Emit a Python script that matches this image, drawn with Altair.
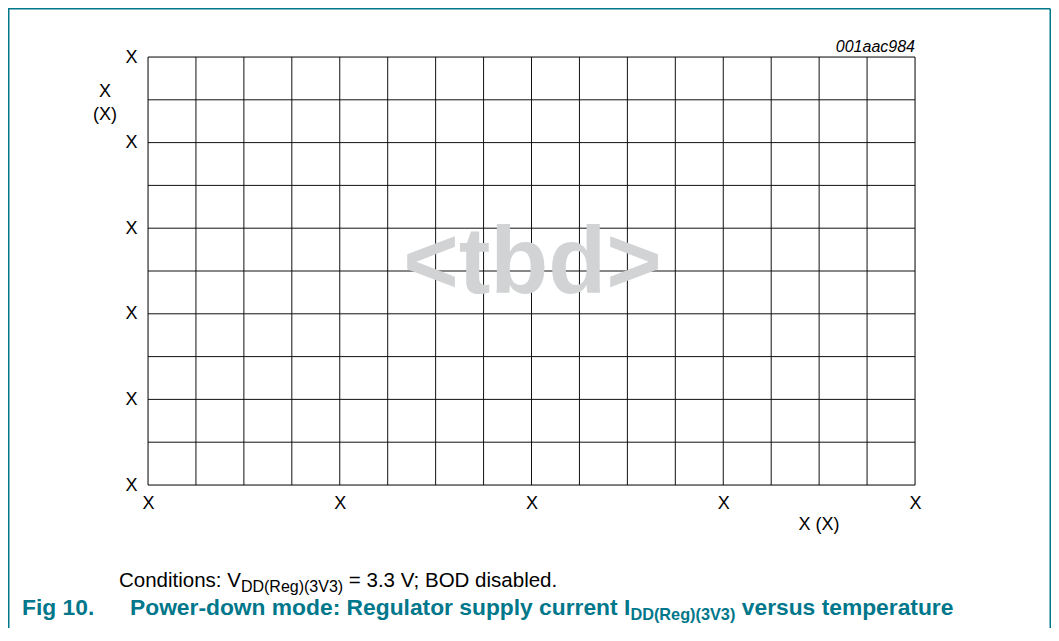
import altair as alt
import pandas as pd

# ---- data (axis structure / labels) ----
x_grid = list(range(0, 17))          # 16 columns
y_grid = list(range(0, 11))          # 10 rows
x_label_pos = [0, 4, 8, 12, 16]
y_label_pos = [0, 2, 4, 6, 8, 10]
tick_text = "X"
x_title = "X (X)"
y_title_lines = ["X", "(X)"]
code_text = "001aac984"
placeholder = "<tbd>"
cond_main = "Conditions: V"
cond_sub = "DD(Reg)(3V3)"
cond_rest = " = 3.3 V; BOD disabled."
fig_num = "Fig 10."
title_main = "Power-down mode: Regulator supply current I"
title_sub = "DD(Reg)(3V3)"
title_rest = " versus temperature"

TEAL = "#00778b"
FONT = "Arial, Liberation Sans, sans-serif"
W, H = 767, 428
PL, PT = 140, 49
TOTAL_W, TOTAL_H = 1043, 620
PR = TOTAL_W - PL - W
PB = TOTAL_H - PT - H

# Arial metrics (per 1000 em) for chaining text pieces
REG = {' ': 278, '(': 333, ')': 333, '.': 278, ':': 278, ';': 278, '=': 584,
       'C': 722, 'D': 722, 'R': 722, 'V': 667, 'B': 667, 'O': 778, 'I': 278,
       'a': 556, 'b': 556, 'c': 500, 'd': 556, 'e': 556, 'g': 556, 'i': 222,
       'l': 222, 'n': 556, 'o': 556, 's': 500, 't': 278}
BOLD = {' ': 278, '(': 333, ')': 333, '.': 278, ':': 333, '-': 333,
        'F': 611, 'P': 667, 'R': 722, 'I': 278, 'D': 722, 'V': 667,
        'a': 556, 'c': 556, 'd': 611, 'e': 556, 'g': 611, 'i': 278, 'l': 278,
        'm': 889, 'n': 611, 'o': 611, 'p': 611, 'r': 389, 's': 556, 't': 333,
        'u': 611, 'v': 556, 'w': 778, 'y': 556}


def tw(s, size, bold=False):
    tbl = BOLD if bold else REG
    return sum(tbl.get(c, 556) for c in s) * size / 1000.0


def px(sx):  # svg x -> plot-relative x
    return sx - PL


def py(sy):
    return sy - PT


axis_common = dict(title=None, domain=False, ticks=False, grid=False,
                   labelFont=FONT, labelFontSize=18, labelColor="#000",
                   labelFlush=False, labelOverlap=False)

vgrid = alt.Chart(pd.DataFrame({"x": x_grid})).mark_rule(
    color="#111111", strokeWidth=1
).encode(
    x=alt.X("x:Q", scale=alt.Scale(domain=[0, 16], nice=False, zero=False),
            axis=alt.Axis(values=x_label_pos, labelExpr=f"'{tick_text}'",
                          labelPadding=9, **axis_common))
)
hgrid = alt.Chart(pd.DataFrame({"y": y_grid})).mark_rule(
    color="#111111", strokeWidth=1
).encode(
    y=alt.Y("y:Q", scale=alt.Scale(domain=[0, 10], nice=False, zero=False),
            axis=alt.Axis(values=y_label_pos, labelExpr=f"'{tick_text}'",
                          labelPadding=11, **axis_common))
)


def txt(s, sx, sy, size, align="left", bold=False, italic=False, color="#000"):
    kw = dict(align=align, baseline="alphabetic", fontSize=size, font=FONT, color=color)
    if bold:
        kw["fontWeight"] = "bold"
    if italic:
        kw["fontStyle"] = "italic"
    return alt.Chart(pd.DataFrame({"t": [s]})).mark_text(**kw).encode(
        x=alt.value(px(sx)), y=alt.value(py(sy)), text="t:N")


def chain(parts, x0, y0, bold, color):
    """parts: list of (text, size, dy). Leading spaces become offsets."""
    out = []
    x = x0
    for s, size, dy in parts:
        lead = len(s) - len(s.lstrip(' '))
        x += tw(' ' * lead, size, bold)
        s2 = s.lstrip(' ')
        out.append(txt(s2, x, y0 + dy, size, bold=bold, color=color))
        x += tw(s2, size, bold)
    return out


layers = [vgrid, hgrid]

# placeholder
layers.append(txt(placeholder, 524.5, 285, 95, align="center", bold=True, color="#d1d3d4"))

# identification code
layers.append(txt(code_text, 907, 44, 16, align="right", italic=True))

# axis titles
layers.append(txt(y_title_lines[0], 97, 88.5, 18, align="center"))
layers.append(txt(y_title_lines[1], 97, 111.5, 18, align="center"))
layers.append(txt(x_title, 811, 521.5, 18, align="center"))

# conditions line
layers += chain([(cond_main, 20.5, 0), (cond_sub, 16, 4.5), (cond_rest, 20.5, 0)],
                111, 579, False, "#000")

# figure title
layers.append(txt(fig_num, 14, 607, 22.8, bold=True, color=TEAL))
layers += chain([(title_main, 22.8, 0), (title_sub, 16.3, 5), (title_rest, 22.8, 0)],
                122, 607, True, TEAL)

# decorative frame
frame_df = pd.DataFrame({"k": [0]})
left = alt.Chart(frame_df).mark_rule(color=TEAL, strokeWidth=1.5).encode(
    x=alt.value(px(0.75)), y=alt.value(py(0.75)), y2=alt.value(py(TOTAL_H)))
top = alt.Chart(frame_df).mark_rule(color=TEAL, strokeWidth=1.5).encode(
    x=alt.value(px(0)), x2=alt.value(px(TOTAL_W - 0.75)), y=alt.value(py(0.75)))
right = alt.Chart(frame_df).mark_rule(color=TEAL, strokeWidth=1.5).encode(
    x=alt.value(px(TOTAL_W - 0.75)), y=alt.value(py(0.75)), y2=alt.value(py(TOTAL_H)))
layers += [left, top, right]

chart = alt.layer(*layers).properties(
    width=W, height=H,
    autosize=alt.AutoSizeParams(type="none"),
    padding={"left": PL, "top": PT, "right": PR, "bottom": PB},
).configure_view(stroke=None).configure(background="white")

chart.save("out.html", embed_options={"renderer": "svg", "actions": False})
